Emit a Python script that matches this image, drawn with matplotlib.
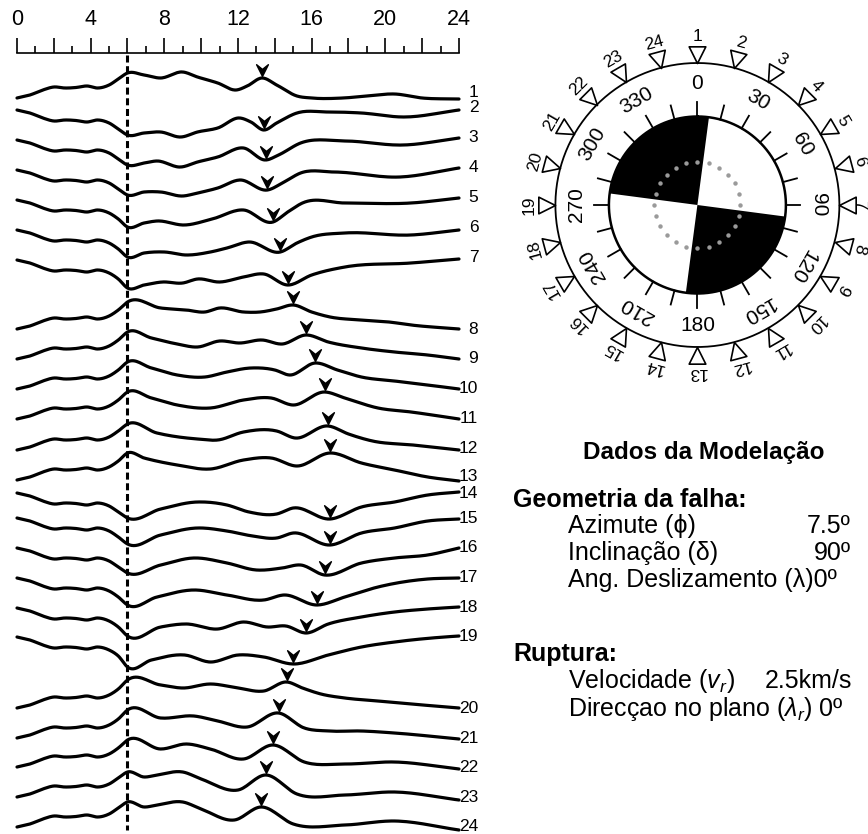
import numpy as np
import matplotlib
matplotlib.use('Agg')
import matplotlib.pyplot as plt
from matplotlib.markers import MarkerStyle
from matplotlib.path import Path
from matplotlib.transforms import Affine2D

plt.rcParams['font.family'] = ['Liberation Sans', 'DejaVu Sans']
plt.rcParams['mathtext.fontset'] = 'custom'
plt.rcParams['mathtext.rm'] = 'Liberation Sans'
plt.rcParams['mathtext.it'] = 'Liberation Sans:italic'

# ---- data -------------------------------------------------------------
stations = list(range(1, 25))
polarity = [1, -1, -1, -1, -1, -1, -1, 1, 1, 1, 1, 1, 1,
            -1, -1, -1, -1, -1, -1, 1, 1, 1, 1, 1]
arrival = [13.3, 13.4, 13.5, 13.6, 13.9, 14.3, 14.7, 15.0, 15.7, 16.2, 16.7, 16.9,
           17.0, 17.0, 17.0, 16.7, 16.3, 15.7, 15.0, 14.65, 14.2, 13.9, 13.5, 13.25]

# common first part of every seismogram (time, amplitude)
onset_t = [0.0, 0.7, 1.4, 2.0, 2.6, 3.2, 3.8, 4.4, 5.0, 5.5]
onset_a = [0, 3, 8, 11, 10, 10.5, 12, 10, 13, 19]

# rest of each seismogram from t = 6 s (time, amplitude)
tr01 = [(6.0, 25), (6.9, 23), (7.8, 20), (9.0, 26), (9.8, 21), (10.9, 15), (11.9, 8), (12.5, 12),
        (13.3, 20), (14.1, 13), (15.2, 2), (16.0, 0), (17.7, 0), (19.0, 2), (20.5, 4), (22.0, 0), (24.0, -1)]
tr02 = [(6.0, 25), (6.9, 23), (7.8, 22), (8.9, 27), (9.8, 22), (10.9, 18), (12.1, 8), (12.7, 12),
        (13.4, 20), (14.1, 13), (15.2, 3), (16.9, 2), (18.7, 3), (21.0, 7), (24.0, 0)]
tr03 = [(6.0, 25), (6.9, 23), (7.6, 21), (8.9, 27), (9.8, 22), (10.9, 17), (12.3, 8), (13.5, 20),
        (14.2, 15), (15.4, 3), (17.8, 1), (21.0, 5), (24.0, -2)]
tr04 = [(6.0, 25), (6.9, 22), (7.8, 22), (9.0, 26), (9.8, 23), (10.9, 18), (12.1, 10), (13.6, 20),
        (14.5, 12), (15.4, 3), (17.2, 2), (20.8, 7), (24.0, -2)]
tr05 = [(6.0, 27), (6.9, 23), (7.6, 21), (9.1, 25), (10.6, 19), (12.3, 10), (13.9, 22), (14.7, 12),
        (15.5, 3), (17.8, 3), (21.4, 3), (24.0, -2)]
tr06 = [(6.0, 27), (6.9, 23), (8.0, 22), (9.2, 25), (10.5, 22), (11.4, 18), (12.6, 12), (14.3, 22),
        (15.2, 13), (16.0, 7), (17.8, 3), (21.4, 5), (24.0, 0)]
tr07 = [(6.0, 28), (6.9, 25), (7.9, 22), (9.0, 23), (9.8, 19), (11.0, 22), (12.3, 17), (13.4, 14),
        (14.7, 25), (16.0, 15), (17.8, 7), (21.4, 3), (24.0, -1)]
tr08 = [(6.0, 27), (7.8, 21), (9.2, 19), (10.2, 17), (11.0, 21), (12.3, 17), (13.2, 17), (14.1, 20),
        (15.0, 24), (16.0, 17), (17.0, 12), (18.7, 9), (20.2, 7), (21.4, 4), (24.0, 0)]
tr09 = [(6.0, 27), (7.3, 21), (8.7, 15), (9.8, 12), (11.0, 18), (12.1, 16), (13.3, 19), (14.4, 15),
        (15.7, 24), (16.9, 17), (18.7, 11), (20.5, 7), (22.3, 4), (24.0, 0)]
tr10 = [(6.0, 27), (7.3, 21), (8.7, 14), (10.2, 12), (11.4, 17), (12.7, 21), (14.0, 19), (14.8, 14),
        (16.2, 26), (17.4, 19), (18.7, 12), (20.5, 8), (22.3, 4), (24.0, 0)]
tr11 = [(6.0, 27), (7.3, 21), (8.7, 14), (10.5, 11), (12.3, 19), (13.8, 21), (15.0, 14), (16.7, 27),
        (17.8, 21), (19.6, 11), (21.4, 7), (24.0, 0)]
tr12 = [(6.0, 26), (7.6, 17), (9.8, 11), (10.9, 10), (12.3, 18), (14.1, 19), (15.1, 12), (16.9, 24),
        (18.0, 16), (19.3, 9), (21.5, 5), (24.0, 0)]
tr13 = [(6.0, 27), (6.9, 22), (8.7, 15), (10.5, 11), (12.3, 20), (13.8, 22), (15.2, 14), (17.0, 27),
        (18.7, 17), (20.5, 10), (22.3, 3), (24.0, -1)]
tr14 = [(6.0, 25), (7.8, 16), (9.8, 9), (11.4, 12), (12.6, 19), (14.1, 21), (15.0, 15), (17.0, 26),
        (18.7, 14), (20.5, 9), (22.3, 2), (24.0, -1)]
tr15 = [(6.0, 26), (7.8, 17), (9.8, 10), (11.4, 13), (12.8, 18), (14.1, 20), (15.0, 15), (17.0, 27),
        (18.7, 15), (20.5, 10), (22.3, 3), (24.0, 1)]
tr16 = [(6.0, 25), (7.8, 17), (9.6, 10), (11.4, 15), (13.0, 22), (14.4, 20), (15.4, 17), (16.7, 27),
        (18.7, 15), (20.5, 10), (22.3, 7), (24.0, 0)]
tr17 = [(6.0, 27), (7.6, 19), (9.6, 12), (11.4, 17), (13.4, 22), (14.5, 17), (16.3, 27), (17.8, 19),
        (19.6, 9), (22.3, 1), (24.0, 0)]
tr18 = [(6.0, 28), (7.8, 19), (9.2, 16), (10.9, 21), (12.3, 14), (13.6, 19), (14.6, 18), (15.7, 25),
        (16.9, 16), (18.7, 9), (20.5, 4), (22.3, 1), (24.0, -1)]
tr19 = [(6.0, 30), (7.3, 23), (9.1, 18), (10.5, 25), (12.0, 18), (13.4, 20), (15.0, 27), (16.9, 18),
        (18.7, 10), (20.5, 5), (23.2, 0), (24.0, -1)]
tr20 = [(6.0, 28), (7.8, 23), (9.0, 20), (10.5, 24), (12.0, 20), (13.4, 17), (14.65, 26), (15.5, 20),
        (16.5, 14), (17.8, 10), (19.6, 7), (21.4, 4), (24.0, 0)]
tr21 = [(6.0, 28), (7.8, 20), (9.6, 22), (10.9, 17), (12.5, 11), (14.2, 25), (15.6, 10), (16.9, 7),
        (18.7, 7), (20.5, 5), (24.0, -1)]
tr22 = [(6.0, 27), (7.8, 18), (9.2, 23), (10.5, 18), (12.3, 8), (13.9, 22), (15.6, 5), (17.8, 3),
        (20.5, 5), (24.0, -2)]
tr23 = [(6.0, 25), (6.9, 20), (7.6, 22), (9.0, 25), (10.0, 18), (12.0, 7), (13.5, 22), (15.2, 3),
        (17.8, 2), (20.5, 5), (24.0, -3)]
tr24 = [(6.0, 25), (6.9, 20), (7.6, 22), (9.0, 25), (10.0, 18), (11.8, 7), (13.25, 20), (15.0, 3),
        (17.8, 2), (20.5, 6), (24.0, -3)]
traces = [tr01, tr02, tr03, tr04, tr05, tr06, tr07, tr08, tr09, tr10, tr11, tr12,
          tr13, tr14, tr15, tr16, tr17, tr18, tr19, tr20, tr21, tr22, tr23, tr24]

# station azimuths (deg) and fault parameters
station_az = [0, 15, 30, 45, 60, 75, 90, 105, 120, 135, 150, 165,
              180, 195, 210, 225, 240, 255, 270, 285, 300, 315, 330, 345]
deg_labels = [0, 30, 60, 90, 120, 150, 180, 210, 240, 270, 300, 330]
strike, dip, rake = 7.5, 90, 0
velocity = 2.5

# ---- layout -----------------------------------------------------------
W, H = 868, 834
trace_y = [98, 110, 140, 170, 200, 230, 260, 329, 359, 389, 419, 450,
           480, 493, 518, 548, 578, 608, 637, 708, 738, 767, 797, 827]
label_y = [92, 107, 137, 167, 197, 227, 257, 329, 358, 388, 418, 448,
           476, 493, 518, 547, 577, 607, 636, 708, 738, 767, 797, 826]


def fx(x):
    return x / W


def fy(y):
    return 1 - y / H


def smooth(tk, ak, n=16):
    tk = np.asarray(tk, float)
    ak = np.asarray(ak, float)
    m = np.gradient(ak, tk)
    ts, ys = [], []
    for i in range(len(tk) - 1):
        h = tk[i + 1] - tk[i]
        s = np.linspace(0, 1, n, endpoint=False)
        h00 = 2 * s**3 - 3 * s**2 + 1
        h10 = s**3 - 2 * s**2 + s
        h01 = -2 * s**3 + 3 * s**2
        h11 = s**3 - s**2
        ts.append(tk[i] + s * h)
        ys.append(h00 * ak[i] + h10 * h * m[i] + h01 * ak[i + 1] + h11 * h * m[i + 1])
    ts.append([tk[-1]])
    ys.append([ak[-1]])
    return np.concatenate(ts), np.concatenate(ys)


fig = plt.figure(figsize=(W / 100, H / 100), dpi=100)

# ---- seismograms ------------------------------------------------------
ax = fig.add_axes([fx(17), 0, 442 / W, (H - 53) / H])
ax.set_xlim(0, 24)
ax.set_ylim(H, 53)
for s in ['left', 'right', 'bottom']:
    ax.spines[s].set_visible(False)
ax.spines['top'].set_linewidth(1.2)
ax.xaxis.tick_top()
major = np.arange(0, 25, 2)
ax.set_xticks(major)
ax.set_xticklabels([str(v) if v % 4 == 0 else '' for v in major])
ax.set_xticks(np.arange(1, 24, 2), minor=True)
ax.tick_params(axis='x', which='major', direction='out', length=10.8, width=1.2,
               pad=6, labelsize=15.5, top=True, bottom=False)
ax.tick_params(axis='x', which='minor', direction='out', length=5, width=1.2,
               top=True, bottom=False)
ax.set_yticks([])

ax.plot([6, 6], [55, 830], color='black', lw=2.2, ls=(0, (2.3, 1.2)))

arrow = Path([(0, 0), (-0.5, 1), (0, 0.6), (0.5, 1), (0, 0)],
             [Path.MOVETO, Path.LINETO, Path.LINETO, Path.LINETO, Path.CLOSEPOLY])

for i, st in enumerate(stations):
    knots = traces[i]
    tk = onset_t + [k[0] for k in knots]
    ak = onset_a + [k[1] for k in knots]
    t, a = smooth(tk, ak)
    y = trace_y[i] - polarity[i] * a
    ax.plot(t, y, color='black', lw=2.3, solid_capstyle='round', clip_on=False)
    ya = np.interp(arrival[i], t, y)
    ax.plot([arrival[i]], [ya - 2], ls='none', marker=arrow, ms=17,
            color='black', clip_on=False)
    ax.text(25.05, label_y[i], str(st), ha='right', va='center',
            fontsize=12.5, clip_on=False)

# ---- focal sphere -----------------------------------------------------
cx, cy, R = 697.4, 205, 190
pax = fig.add_axes([fx(cx - R), fy(cy + R), 2 * R / W, 2 * R / H], projection='polar')
pax.set_theta_zero_location('N')
pax.set_theta_direction(-1)
pax.set_ylim(0, R)
pax.set_axis_off()

r_in, r_out = 88.5, 142
th = np.linspace(0, 2 * np.pi, 400)

for a0 in [strike + 270, strike + 90]:
    q = np.deg2rad(np.linspace(a0, a0 + 90, 60))
    pax.fill(np.r_[0, q], np.r_[0, np.full(q.size, r_in)], color='black', lw=0)
pax.plot(th, np.full(th.size, r_in), color='black', lw=1.8)
pax.plot(th, np.full(th.size, r_out), color='black', lw=1.3)

for az in station_az:
    pax.plot([np.deg2rad(az)] * 2, [r_in, r_in + 14.5], color='black', lw=1.3)

dots = np.deg2rad(np.array(station_az))
pax.plot(dots, np.full(dots.size, 43), 'o', ms=3.2, color='#9a9a9a', mec='none')

for d in deg_labels:
    rot = 0 if d == 180 else -d
    pax.text(np.deg2rad(d), 121, str(d), rotation=rot, rotation_mode='anchor',
             ha='center', va='center', fontsize=15, clip_on=False)

tri = Path([(0, 0), (-0.5, 1), (0.5, 1), (0, 0)],
           [Path.MOVETO, Path.LINETO, Path.LINETO, Path.CLOSEPOLY])
for st, az in zip(stations, station_az):
    mk = MarkerStyle(tri, transform=Affine2D().rotate_deg(-az))
    pax.plot([np.deg2rad(az)], [r_out], ls='none', marker=mk, ms=24,
             mfc='white', mec='black', mew=1.2, clip_on=False)
    # keep the label at the right edge inside the picture
    r_lab = 162 if az == 90 else 168
    pax.text(np.deg2rad(az), r_lab, str(st), rotation=-az, rotation_mode='anchor',
             ha='center', va='center', fontsize=12.5, clip_on=False)

# ---- modelling parameters --------------------------------------------
body = 18
fig.text(fx(704), fy(459), 'Dados da Modelação', ha='center', va='baseline',
         fontsize=17.5, fontweight='bold')
fig.text(fx(513), fy(507), 'Geometria da falha:', ha='left', va='baseline',
         fontsize=18, fontweight='bold')
fig.text(fx(568), fy(533), 'Azimute (ϕ)', ha='left', va='baseline', fontsize=body)
fig.text(fx(851), fy(533), f'{strike}º', ha='right', va='baseline', fontsize=body)
fig.text(fx(568), fy(560), 'Inclinação (δ)', ha='left', va='baseline', fontsize=body)
fig.text(fx(851), fy(560), f'{dip}º', ha='right', va='baseline', fontsize=body)
fig.text(fx(568), fy(587), f'Ang. Deslizamento (λ){rake}º', ha='left', va='baseline',
         fontsize=body)
fig.text(fx(513), fy(661), 'Ruptura:', ha='left', va='baseline',
         fontsize=18, fontweight='bold')
fig.text(fx(568), fy(688), r'Velocidade ($v_r$)', ha='left', va='baseline', fontsize=body)
fig.text(fx(852), fy(688), f'{velocity}km/s', ha='right', va='baseline', fontsize=body)
fig.text(fx(568), fy(716), r'Direcçao no plano ($\lambda_r$) 0º', ha='left',
         va='baseline', fontsize=body)

fig.savefig('out.png', dpi=100)
